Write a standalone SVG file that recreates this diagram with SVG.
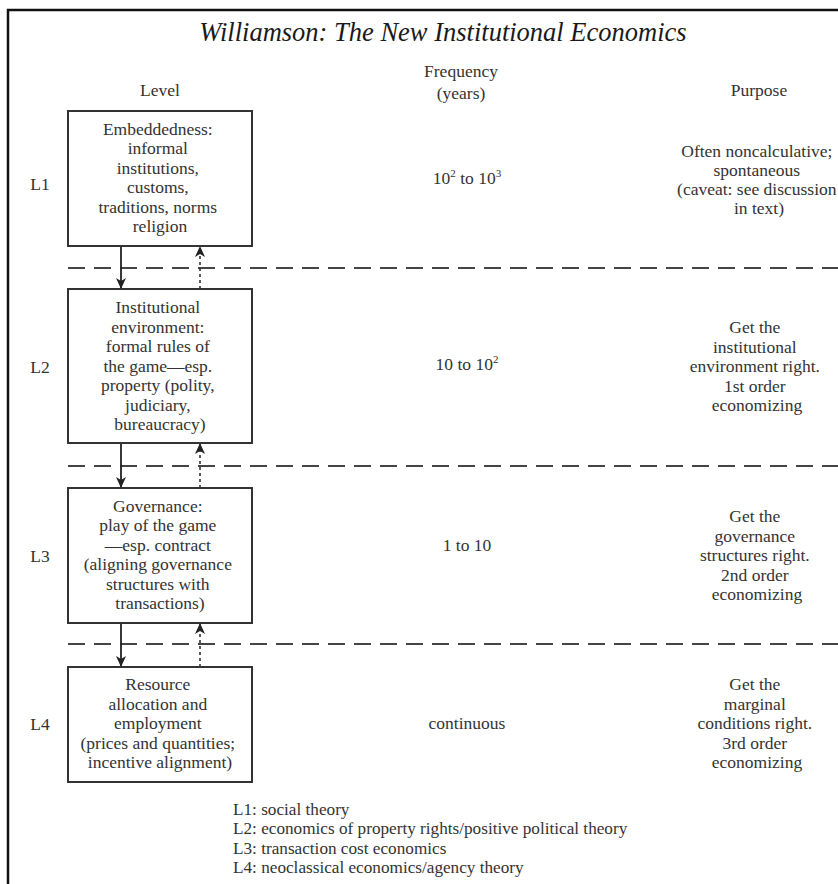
<svg xmlns="http://www.w3.org/2000/svg" width="838" height="884" viewBox="0 0 838 884">
  <style>
    text { font-family: "Liberation Serif", "Times New Roman", serif; fill: #333; }
    .title { font-size: 26.5px; font-style: italic; fill: #1a1a1a; }
    .head { font-size: 17.5px; }
    .body { font-size: 17.5px; text-anchor: middle; }
    .lvl { font-size: 17.5px; text-anchor: middle; }
    .legend { font-size: 17.2px; }
    .box { fill: #fff; stroke: #333; stroke-width: 2; }
    .sep { stroke: #444; stroke-width: 2; stroke-dasharray: 17 9; fill: none; }
    .down { stroke: #222; stroke-width: 1.8; fill: none; marker-end: url(#head); }
    .up { stroke: #333; stroke-width: 1.6; stroke-dasharray: 3 3; fill: none; marker-end: url(#head); }
    .frame { stroke: #111; stroke-width: 2.5; fill: none; }
  </style>
  <defs>
    <marker id="head" viewBox="0 0 12 12" refX="11" refY="6" markerWidth="12" markerHeight="12" markerUnits="userSpaceOnUse" orient="auto">
      <path d="M0,1 L11,6 L0,11 L3,6 Z" fill="#222"/>
    </marker>
  </defs>

  <rect width="838" height="884" fill="#fff"/>
  <!-- outer frame: top and left rules -->
  <path class="frame" d="M8,884 V10 H838"/>

  <text class="title" x="443" y="41" text-anchor="middle">Williamson: The New Institutional Economics</text>

  <!-- column headers -->
  <g id="headers" class="head">
    <text x="160" y="96" text-anchor="middle">Level</text>
    <text x="461" y="77" text-anchor="middle">Frequency</text>
    <text x="461" y="99" text-anchor="middle">(years)</text>
    <text x="759" y="96" text-anchor="middle">Purpose</text>
  </g>

  <!-- level separators -->
  <g id="separators">
    <line class="sep" x1="68" y1="268" x2="838" y2="268"/>
    <line class="sep" x1="68" y1="466" x2="838" y2="466"/>
    <line class="sep" x1="68" y1="644" x2="838" y2="644"/>
  </g>

  <!-- connectors between levels -->
  <g id="connectors">
    <line class="down" x1="121" y1="246" x2="121" y2="289"/>
    <line class="up" x1="200" y1="289" x2="200" y2="246"/>
    <line class="down" x1="121" y1="443" x2="121" y2="488"/>
    <line class="up" x1="200" y1="488" x2="200" y2="443"/>
    <line class="down" x1="121" y1="623" x2="121" y2="667"/>
    <line class="up" x1="200" y1="667" x2="200" y2="623"/>
  </g>

  <!-- L1 -->
  <g id="L1">
    <text class="lvl" x="40" y="190">L1</text>
    <rect class="box" x="68" y="111" width="184" height="135"/>
    <text class="body" x="160" y="135">
      <tspan x="160">Embeddedness:</tspan>
      <tspan x="160" dy="19.4">informal</tspan>
      <tspan x="160" dy="19.4">institutions,</tspan>
      <tspan x="160" dy="19.4">customs,</tspan>
      <tspan x="160" dy="19.4">traditions, norms</tspan>
      <tspan x="160" dy="19.4">religion</tspan>
    </text>
    <text class="body" x="467" y="184">10<tspan font-size="11" dy="-7">2</tspan><tspan dy="7"> to 10</tspan><tspan font-size="11" dy="-7">3</tspan></text>
    <text class="body" x="759" y="157">
      <tspan x="759">Often noncalculative;</tspan>
      <tspan x="759" dy="19">spontaneous</tspan>
      <tspan x="759" dy="19">(caveat: see discussion</tspan>
      <tspan x="759" dy="19">in text)</tspan>
    </text>
  </g>

  <!-- L2 -->
  <g id="L2">
    <text class="lvl" x="40" y="373">L2</text>
    <rect class="box" x="68" y="289" width="184" height="154"/>
    <text class="body" x="160" y="313">
      <tspan x="160">Institutional</tspan>
      <tspan x="160" dy="19.5">environment:</tspan>
      <tspan x="160" dy="19.5">formal rules of</tspan>
      <tspan x="160" dy="19.5">the game—esp.</tspan>
      <tspan x="160" dy="19.5">property (polity,</tspan>
      <tspan x="160" dy="19.5">judiciary,</tspan>
      <tspan x="160" dy="19.5">bureaucracy)</tspan>
    </text>
    <text class="body" x="467" y="370">10 to 10<tspan font-size="11" dy="-7">2</tspan></text>
    <text class="body" x="757" y="333">
      <tspan x="757">Get the</tspan>
      <tspan x="757" dy="19.6">institutional</tspan>
      <tspan x="757" dy="19.6">environment right.</tspan>
      <tspan x="757" dy="19.6">1st order</tspan>
      <tspan x="757" dy="19.6">economizing</tspan>
    </text>
  </g>

  <!-- L3 -->
  <g id="L3">
    <text class="lvl" x="40" y="562">L3</text>
    <rect class="box" x="68" y="488" width="184" height="135"/>
    <text class="body" x="160" y="512">
      <tspan x="160">Governance:</tspan>
      <tspan x="160" dy="19.4">play of the game</tspan>
      <tspan x="160" dy="19.4">—esp. contract</tspan>
      <tspan x="160" dy="19.4">(aligning governance</tspan>
      <tspan x="160" dy="19.4">structures with</tspan>
      <tspan x="160" dy="19.4">transactions)</tspan>
    </text>
    <text class="body" x="467" y="551">1 to 10</text>
    <text class="body" x="757" y="522">
      <tspan x="757">Get the</tspan>
      <tspan x="757" dy="19.5">governance</tspan>
      <tspan x="757" dy="19.5">structures right.</tspan>
      <tspan x="757" dy="19.5">2nd order</tspan>
      <tspan x="757" dy="19.5">economizing</tspan>
    </text>
  </g>

  <!-- L4 -->
  <g id="L4">
    <text class="lvl" x="40" y="730">L4</text>
    <rect class="box" x="68" y="667" width="184" height="115"/>
    <text class="body" x="160" y="690">
      <tspan x="160">Resource</tspan>
      <tspan x="160" dy="19.5">allocation and</tspan>
      <tspan x="160" dy="19.5">employment</tspan>
      <tspan x="160" dy="19.5">(prices and quantities;</tspan>
      <tspan x="160" dy="19.5">incentive alignment)</tspan>
    </text>
    <text class="body" x="467" y="729">continuous</text>
    <text class="body" x="757" y="690">
      <tspan x="757">Get the</tspan>
      <tspan x="757" dy="19.5">marginal</tspan>
      <tspan x="757" dy="19.5">conditions right.</tspan>
      <tspan x="757" dy="19.5">3rd order</tspan>
      <tspan x="757" dy="19.5">economizing</tspan>
    </text>
  </g>

  <!-- legend -->
  <g id="legend" class="legend">
    <text x="233" y="815">L1: social theory</text>
    <text x="233" y="834">L2: economics of property rights/positive political theory</text>
    <text x="233" y="854">L3: transaction cost economics</text>
    <text x="233" y="873">L4: neoclassical economics/agency theory</text>
  </g>
</svg>
